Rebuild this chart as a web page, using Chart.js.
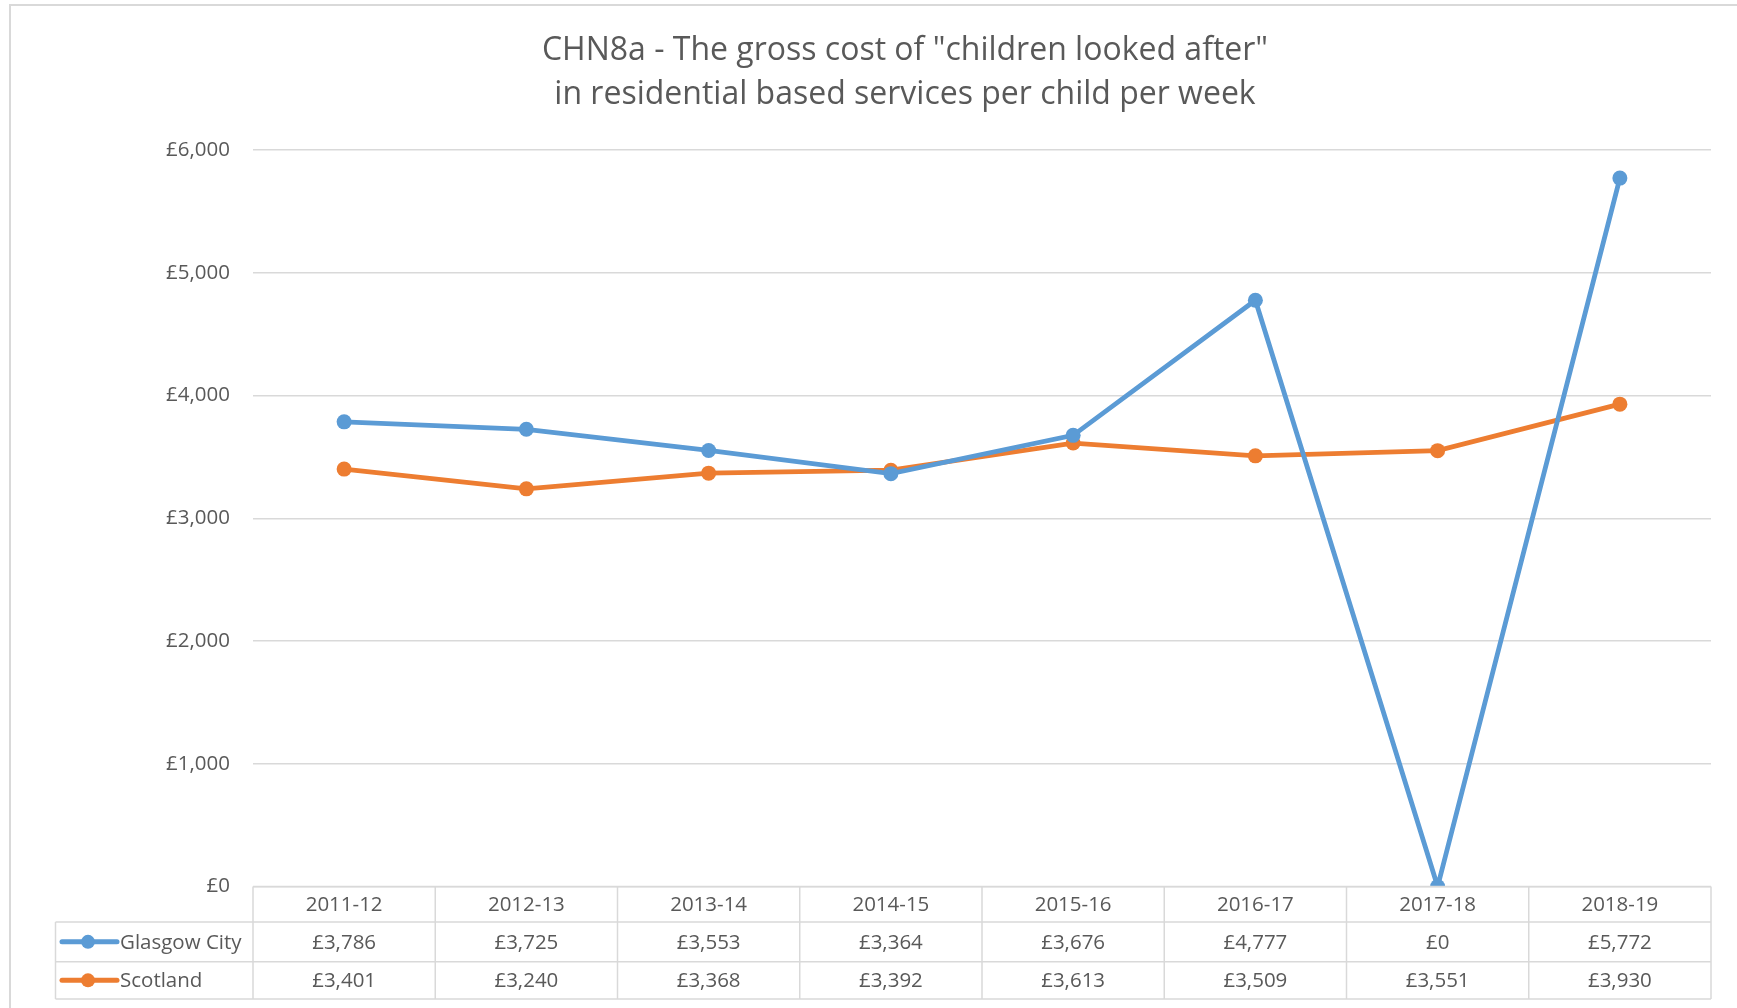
<!DOCTYPE html>
<html>
<head>
    <title>CHN8a residential cost</title>
    <script src="https://cdn.jsdelivr.net/npm/chart.js"></script>
    <style>
        html, body {
            margin: 0;
            padding: 0;
            background-color: #ffffff;
        }
        #wrap {
            width: 1737px;
            height: 1008px;
        }
    </style>
</head>
<body>
<div id="wrap"><canvas id="costChart"></canvas></div>

<script>
    const years = ['2011-12', '2012-13', '2013-14', '2014-15', '2015-16', '2016-17', '2017-18', '2018-19'];
    const glasgowCity = [3786, 3725, 3553, 3364, 3676, 4777, 0, 5772];
    const scotland = [3401, 3240, 3368, 3392, 3613, 3509, 3551, 3930];
    const seriesNames = ['Glasgow City', 'Scotland'];
    const yTicks = [0, 1000, 2000, 3000, 4000, 5000, 6000];

    const BLUE = '#5B9BD5';
    const ORANGE = '#ED7D31';
    const TEXT = '#595959';
    const LINE = '#D9D9D9';
    const FONT = "'Open Sans', sans-serif";

    const money = v => '£' + v.toLocaleString('en-GB');

    // frame round the whole chart, like the office chart border
    const framePlugin = {
        id: 'frame',
        beforeDraw(chart) {
            const c = chart.ctx;
            c.save();
            c.strokeStyle = LINE;
            c.lineWidth = 2;
            c.beginPath();
            c.moveTo(10, chart.height + 2);
            c.lineTo(10, 5);
            c.lineTo(chart.width + 2, 5);
            c.stroke();
            c.restore();
        }
    };

    // data table under the plot, laid out on the x scale
    const tablePlugin = {
        id: 'dataTable',
        afterDraw(chart) {
            const c = chart.ctx;
            const x = chart.scales.x;
            const area = chart.chartArea;
            const top = area.bottom;
            const rows = [top, 922, 961.7, 999];
            const legendLeft = 55.5;
            const step = (area.right - area.left) / years.length;

            c.save();
            c.strokeStyle = LINE;
            c.lineWidth = 1.5;
            c.beginPath();
            // horizontal rules
            c.moveTo(area.left, rows[0]);
            c.lineTo(area.right, rows[0]);
            for (let i = 1; i < rows.length; i++) {
                c.moveTo(legendLeft, rows[i]);
                c.lineTo(area.right, rows[i]);
            }
            // vertical rules
            c.moveTo(legendLeft, rows[1]);
            c.lineTo(legendLeft, rows[3]);
            for (let i = 0; i <= years.length; i++) {
                const px = area.left + i * step;
                c.moveTo(px, rows[0]);
                c.lineTo(px, rows[3]);
            }
            c.stroke();

            c.fillStyle = TEXT;
            c.font = '20.5px ' + FONT;
            c.textAlign = 'center';
            c.textBaseline = 'middle';
            years.forEach((y, i) => {
                c.fillText(y, x.getPixelForValue(i), (rows[0] + rows[1]) / 2 + 1);
            });

            const rowData = [glasgowCity, scotland];
            const colors = [BLUE, ORANGE];
            rowData.forEach((vals, r) => {
                const cy = (rows[r + 1] + rows[r + 2]) / 2 + 1;
                vals.forEach((v, i) => {
                    c.textAlign = 'center';
                    c.fillStyle = TEXT;
                    c.fillText(money(v), x.getPixelForValue(i), cy);
                });
                // legend key
                c.strokeStyle = colors[r];
                c.lineWidth = 5;
                c.lineCap = 'round';
                c.beginPath();
                c.moveTo(62, cy - 1);
                c.lineTo(117, cy - 1);
                c.stroke();
                c.fillStyle = colors[r];
                c.beginPath();
                c.arc(88, cy - 1, 7, 0, Math.PI * 2);
                c.fill();
                c.fillStyle = TEXT;
                c.textAlign = 'left';
                c.fillText(seriesNames[r], 120, cy);
            });
            c.restore();
        }
    };

    const ctx = document.getElementById('costChart').getContext('2d');

    new Chart(ctx, {
        type: 'line',
        data: {
            labels: years,
            datasets: [
                {
                    label: seriesNames[0],
                    data: glasgowCity,
                    borderColor: BLUE,
                    backgroundColor: BLUE,
                    borderWidth: 4.8,
                    pointRadius: 7.5,
                    pointBorderWidth: 0,
                    tension: 0
                },
                {
                    label: seriesNames[1],
                    data: scotland,
                    borderColor: ORANGE,
                    backgroundColor: ORANGE,
                    borderWidth: 4.8,
                    pointRadius: 7.5,
                    pointBorderWidth: 0,
                    tension: 0
                }
            ]
        },
        options: {
            responsive: true,
            maintainAspectRatio: false,
            animation: false,
            layout: {
                // left padding pushes the title centre right, as in the original
                padding: { left: 99, right: 26, top: 0, bottom: 0 }
            },
            plugins: {
                legend: { display: false },
                tooltip: { enabled: false },
                title: {
                    display: true,
                    text: ['CHN8a - The gross cost of "children looked after"', 'in residential based services per child per week'],
                    color: TEXT,
                    font: { family: FONT, size: 32, weight: 'normal', lineHeight: 1.4 },
                    padding: { top: 28, bottom: 32.5 }
                }
            },
            scales: {
                x: {
                    offset: true,
                    grid: { display: false },
                    border: { display: false },
                    ticks: { display: false },
                    afterFit: s => { s.height = 1008 - 886.5; }
                },
                y: {
                    min: 0,
                    max: 6000,
                    afterBuildTicks: s => { s.ticks = yTicks.map(v => ({ value: v })); },
                    grid: { color: LINE, lineWidth: 1.5, drawTicks: false },
                    border: { display: false },
                    ticks: {
                        color: TEXT,
                        padding: 23,
                        font: { family: FONT, size: 20.5 },
                        callback: v => money(v)
                    },
                    afterFit: s => { s.width = 154; }
                }
            }
        },
        plugins: [framePlugin, tablePlugin]
    });
</script>
</body>
</html>
